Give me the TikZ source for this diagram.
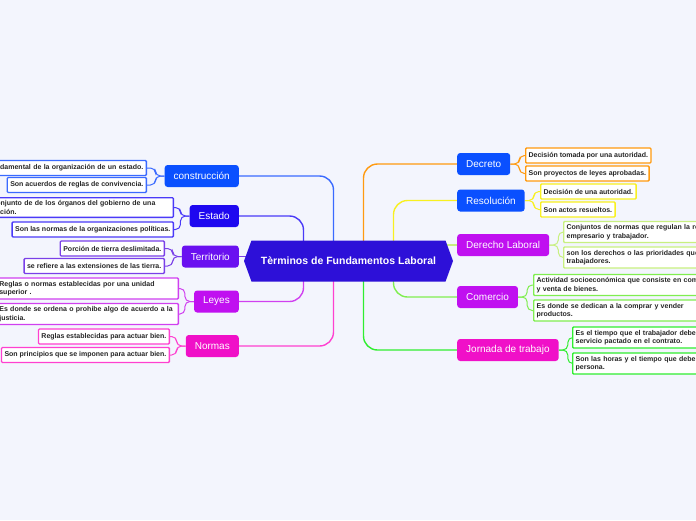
\documentclass[tikz,border=0pt]{standalone}
\usepackage{fontspec}
\setmainfont{Liberation Sans}
\usetikzlibrary{positioning, shapes.symbols, backgrounds}

\definecolor{canvas}{HTML}{F3F5FD}
\definecolor{coreblue}{HTML}{2D10D8}
\definecolor{topblue}{HTML}{0A50FF}
\definecolor{topindigo}{HTML}{1E08F0}
\definecolor{topviolet}{HTML}{6A10F0}
\definecolor{toppurple}{HTML}{C010F0}
\definecolor{toppink}{HTML}{F010C8}
\definecolor{lnConstr}{HTML}{3A6AFF}
\definecolor{lnEstado}{HTML}{4A3AF8}
\definecolor{lnTerr}{HTML}{7A40E8}
\definecolor{lnLeyes}{HTML}{D040F0}
\definecolor{lnNormas}{HTML}{FF40D0}
\definecolor{lnDecreto}{HTML}{FF9A10}
\definecolor{lnResol}{HTML}{F8F020}
\definecolor{lnDerecho}{HTML}{C8F080}
\definecolor{lnComercio}{HTML}{80EE50}
\definecolor{lnJornada}{HTML}{30EE30}

\tikzset{
  core/.style   = {signal, signal to=west and east, signal pointer angle=140,
                   fill=coreblue, text=white, font=\bfseries\fontsize{10.5}{12}\selectfont,
                   minimum width=209pt, minimum height=41pt, inner sep=0pt},
  topic/.style  = {rounded corners=3pt, text=white, font=\fontsize{10}{12}\selectfont,
                   minimum height=22pt, inner xsep=9pt},
  leaf/.style   = {draw, fill=white, line width=1.3pt, rounded corners=1pt,
                   font=\bfseries\fontsize{7}{8.5}\selectfont, text=black!85,
                   inner xsep=3pt, inner ysep=3pt, minimum height=15pt},
  branch/.style = {line width=1.4pt, rounded corners=14pt},   % centre -> topic
  twig/.style   = {line width=1pt, rounded corners=5pt},      % topic -> leaves
}

\begin{document}
\begin{tikzpicture}[x=1pt, y=-1pt]
  \useasboundingbox (0,0) rectangle (696,520);
  \clip (0,0) rectangle (696,520);
  \begin{scope}[on background layer]
    \fill[canvas] (0,0) rectangle (696,520);
  \end{scope}

  \node[core] at (348.5,261) (core) {Tèrminos de Fundamentos Laboral};

  % left topics
  \node[topic, fill=topblue,   anchor=east] at (239,176)   (constr) {construcción};
  \node[topic, fill=topindigo, anchor=east] at (239,216)   (estado) {Estado};
  \node[topic, fill=topviolet, anchor=east] at (239,256.5) (terr)   {Territorio};
  \node[topic, fill=toppurple, anchor=east] at (239,301.5) (leyes)  {Leyes};
  \node[topic, fill=toppink,   anchor=east] at (239,346)   (normas) {Normas};

  % right topics
  \node[topic, fill=topblue,   anchor=west] at (457,164)   (decreto)  {Decreto};
  \node[topic, fill=topblue,   anchor=west] at (457,200.5) (resol)    {Resolución};
  \node[topic, fill=toppurple, anchor=west] at (457,245)   (derecho)  {Derecho Laboral};
  \node[topic, fill=toppurple, anchor=west] at (457,297)   (comercio) {Comercio};
  \node[topic, fill=toppink,   anchor=west] at (457,350)   (jornada)  {Jornada de trabajo};

  % left leaves
  \node[leaf, draw=lnConstr, anchor=east, text width=170pt, align=right] at (147,168) (c1)
       {ndamental de la organización de un estado.};
  \node[leaf, draw=lnConstr, anchor=east] at (147,185) (c2) {Son acuerdos de reglas de convivencia.};
  \node[leaf, draw=lnEstado, anchor=east, text width=174pt, align=left] at (174,207.5) (e1)
       {onjunto de de los órganos del gobierno de una\\ación.};
  \node[leaf, draw=lnEstado, anchor=east] at (174,229.5) (e2) {Son las normas de la organizaciones políticas.};
  \node[leaf, draw=lnTerr,   anchor=east] at (165,248.5) (t1) {Porción de tierra deslimitada.};
  \node[leaf, draw=lnTerr,   anchor=east] at (165,266)   (t2) {se refiere a las extensiones de las tierra.};
  \node[leaf, draw=lnLeyes,  anchor=east, text width=176pt, align=left] at (179,288.5) (l1)
       {Reglas o normas establecidas por una unidad\\superior .};
  \node[leaf, draw=lnLeyes,  anchor=east, text width=176pt, align=left] at (179,314) (l2)
       {Es donde se ordena o prohibe algo de acuerdo a la\\justicia.};
  \node[leaf, draw=lnNormas, anchor=east] at (170,336.5) (n1) {Reglas establecidas para actuar bien.};
  \node[leaf, draw=lnNormas, anchor=east] at (170,355)   (n2) {Son principios que se imponen para actuar bien.};

  % right leaves
  \node[leaf, draw=lnDecreto, anchor=west] at (525,155.5) (d1) {Decisión tomada por una autoridad.};
  \node[leaf, draw=lnDecreto, anchor=west] at (525,173.5) (d2) {Son proyectos de leyes aprobadas.};
  \node[leaf, draw=lnResol,   anchor=west] at (540,191.5) (r1) {Decisión de una autoridad.};
  \node[leaf, draw=lnResol,   anchor=west] at (540,209.5) (r2) {Son actos resueltos.};
  \node[leaf, draw=lnDerecho, anchor=west, text width=160pt, align=left] at (563,232) (dl1)
       {Conjuntos de normas que regulan la re\\empresario y trabajador.};
  \node[leaf, draw=lnDerecho, anchor=west, text width=160pt, align=left] at (563,257.5) (dl2)
       {son los derechos o las prioridades que\\trabajadores.};
  \node[leaf, draw=lnComercio, anchor=west, text width=180pt, align=left] at (533,285) (co1)
       {Actividad socioeconómica que consiste en com\\y venta de bienes.};
  \node[leaf, draw=lnComercio, anchor=west, text width=180pt, align=left] at (533,310.5) (co2)
       {Es donde se dedican a la comprar y vender\\productos.};
  \node[leaf, draw=lnJornada, anchor=west, text width=150pt, align=left] at (572,337.5) (j1)
       {Es el tiempo que el trabajador debe\\servicio pactado en el contrato.};
  \node[leaf, draw=lnJornada, anchor=west, text width=150pt, align=left] at (572,363.5) (j2)
       {Son las horas y el tiempo que debe\\persona.};

  \begin{scope}[on background layer]
    % centre to topics
    \draw[branch, lnConstr]   (constr.east)  -| ([xshift=-15pt]core.center);
    \draw[branch, lnEstado]   (estado.east)  -| ([xshift=-45pt]core.center);
    \draw[branch, lnTerr]     (terr.east)    -- (terr.east -| core.center);
    \draw[branch, lnLeyes]    (leyes.east)   -| ([xshift=-45pt]core.center);
    \draw[branch, lnNormas]   (normas.east)  -| ([xshift=-15pt]core.center);
    \draw[branch, lnDecreto]  (decreto.west) -| ([xshift=15pt]core.center);
    \draw[branch, lnResol]    (resol.west)   -| ([xshift=45pt]core.center);
    \draw[branch, lnDerecho]  (derecho.west) -- (derecho.west -| core.center);
    \draw[branch, lnComercio] (comercio.west) -| ([xshift=45pt]core.center);
    \draw[branch, lnJornada]  (jornada.west) -| ([xshift=15pt]core.center);

    % topics to leaves
    \draw[twig, lnConstr]   (constr.west)  -- ++(-9,0) |- (c1.east);
    \draw[twig, lnConstr]   (constr.west)  -- ++(-9,0) |- (c2.east);
    \draw[twig, lnEstado]   (estado.west)  -- ++(-9,0) |- (e1.east);
    \draw[twig, lnEstado]   (estado.west)  -- ++(-9,0) |- (e2.east);
    \draw[twig, lnTerr]     (terr.west)    -- ++(-9,0) |- (t1.east);
    \draw[twig, lnTerr]     (terr.west)    -- ++(-9,0) |- (t2.east);
    \draw[twig, lnLeyes]    (leyes.west)   -- ++(-9,0) |- (l1.east);
    \draw[twig, lnLeyes]    (leyes.west)   -- ++(-9,0) |- (l2.east);
    \draw[twig, lnNormas]   (normas.west)  -- ++(-9,0) |- (n1.east);
    \draw[twig, lnNormas]   (normas.west)  -- ++(-9,0) |- (n2.east);
    \draw[twig, lnDecreto]  (decreto.east) -- ++(9,0) |- (d1.west);
    \draw[twig, lnDecreto]  (decreto.east) -- ++(9,0) |- (d2.west);
    \draw[twig, lnResol]    (resol.east)   -- ++(9,0) |- (r1.west);
    \draw[twig, lnResol]    (resol.east)   -- ++(9,0) |- (r2.west);
    \draw[twig, lnDerecho]  (derecho.east) -- ++(9,0) |- (dl1.west);
    \draw[twig, lnDerecho]  (derecho.east) -- ++(9,0) |- (dl2.west);
    \draw[twig, lnComercio] (comercio.east) -- ++(9,0) |- (co1.west);
    \draw[twig, lnComercio] (comercio.east) -- ++(9,0) |- (co2.west);
    \draw[twig, lnJornada]  (jornada.east) -- ++(9,0) |- (j1.west);
    \draw[twig, lnJornada]  (jornada.east) -- ++(9,0) |- (j2.west);
  \end{scope}
\end{tikzpicture}
\end{document}
